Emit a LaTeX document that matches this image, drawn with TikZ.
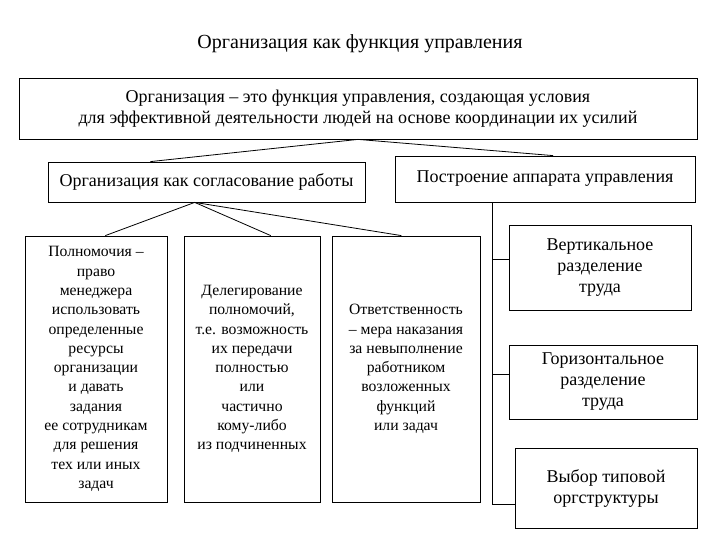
\documentclass[tikz,border=0pt]{standalone}
\usepackage{fontspec}
\setmainfont{Liberation Serif}

\begin{document}
\begin{tikzpicture}[x=1pt, y=-1pt]
\tikzset{box/.style = {shape=rectangle, draw, line width=0.8pt, align=center, inner sep=0pt}}
    \tikzset{edge/.style = {draw=black, line width=0.8pt, -}}
\useasboundingbox (0,0) rectangle (720,540);

% Title and the main definition
\node (title) at (360,44) {\fontsize{20}{24}\selectfont Организация как функция управления};
\node[box, minimum width=678pt, minimum height=61pt, font=\fontsize{18}{21}\selectfont] (top) at (358,108.5)
  {Организация – это функция управления, создающая условия\\для эффективной деятельности людей на основе координации их усилий};

% Second level
\node[box, minimum width=317pt, minimum height=40pt, font=\fontsize{18}{21}\selectfont] (coord) at (206.5,182) {Организация как согласование работы};
\node[box, minimum width=300pt, minimum height=46pt, font=\fontsize{18}{21}\selectfont] (build) at (545,179) {Построение аппарата управления};

% Left branch
\node[box, minimum width=142pt, minimum height=266pt, font=\fontsize{15.7}{19.3}\selectfont] (p1) at (96,369)
  {Полномочия –\\право\\менеджера\\использовать\\определенные\\ресурсы\\организации\\и давать\\задания\\ее сотрудникам\\для решения\\тех или иных\\задач};
\node[box, minimum width=136pt, minimum height=266pt, font=\fontsize{15.7}{19.3}\selectfont] (p2) at (252,369)
  {Делегирование\\полномочий,\\т.е. возможность\\их передачи\\полностью\\или\\частично\\кому-либо\\из подчиненных};
\node[box, minimum width=148pt, minimum height=266pt, font=\fontsize{15.7}{19.3}\selectfont] (p3) at (406,369)
  {Ответственность\\– мера наказания\\за невыполнение\\работником\\возложенных\\функций\\или задач};

% Right branch
\node[box, minimum width=182pt, minimum height=85pt, font=\fontsize{18}{21}\selectfont] (vert) at (600,267.5) {Вертикальное\\разделение\\труда};
\node[box, minimum width=188pt, minimum height=74pt, font=\fontsize{18}{21}\selectfont] (horiz) at (603,382) {Горизонтальное\\разделение\\труда};
\node[box, minimum width=182pt, minimum height=80pt, font=\fontsize{18}{21}\selectfont] (type) at (606,488) {Выбор типовой\\оргструктуры};
\coordinate (trunk) at (492,504);

% Connectors
\draw[edge] (coord.160) -- (top.south) -- (build.71);
\draw[edge] (p1.86) -- (coord.-120) -- (p2.82.7);
\draw[edge] (coord.-120) -- (p3.92.6);
\draw[edge] (build.south -| trunk) -- (trunk) -- (trunk -| type.west);
\draw[edge] (vert.west |- 0,259) -| (trunk);
\draw[edge] (horiz.west |- 0,374) -| (trunk);

\end{tikzpicture}
\end{document}
